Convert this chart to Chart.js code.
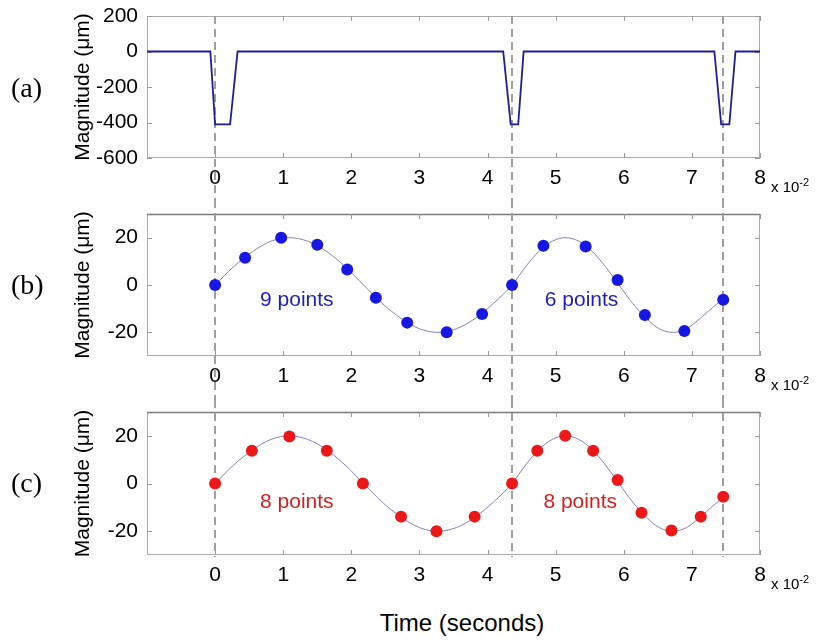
<!DOCTYPE html>
<html>
<head>
<meta charset="utf-8">
<script src="https://cdn.jsdelivr.net/npm/chart.js@4.4.1/dist/chart.umd.min.js"></script>
<style>
    body { margin: 0; background: #fff; }
    #wrap { position: relative; width: 821px; height: 641px; font-family: "Liberation Sans", Arial, sans-serif; color: #000; }
    .panel { position: absolute; left: 0; }
    .tag { position: absolute; left: 11px; font-family: "Liberation Serif", "Times New Roman", serif; font-size: 28px; line-height: 30px; }
    .mult { position: absolute; left: 771px; font-size: 15px; line-height: 16px; }
    .mult sup { font-size: 11px; vertical-align: 6px; line-height: 0; }
    #xlabel { position: absolute; left: 312px; width: 300px; top: 609px; text-align: center; font-size: 24px; line-height: 28px; }
</style>
</head>
<body>
<div id="wrap">
    <canvas id="chartA" class="panel" style="top:0"></canvas>
    <canvas id="chartB" class="panel" style="top:200px"></canvas>
    <canvas id="chartC" class="panel" style="top:400px"></canvas>
    <div class="tag" style="top:73px">(a)</div>
    <div class="tag" style="top:270px">(b)</div>
    <div class="tag" style="top:468px">(c)</div>
    <div class="mult" style="top:179px">x 10<sup>-2</sup></div>
    <div class="mult" style="top:377px">x 10<sup>-2</sup></div>
    <div class="mult" style="top:576px">x 10<sup>-2</sup></div>
    <div id="xlabel">Time (seconds)</div>
</div>
<script>
// time axis, in units of 1e-2 s
const xTicks = [0, 1, 2, 3, 4, 5, 6, 7, 8];
const markerTimes = [0, 4.36, 7.45];

// (a) excitation pulses
const pulseX = [-1, -0.07, 0, 0.22, 0.33, 4.23, 4.34, 4.45, 4.53, 7.33, 7.43, 7.55, 7.64, 8];
const pulseY = [0, 0, -410, -410, 0, 0, -410, -410, 0, 0, -410, -410, 0, 0];
const aTicks = [-600, -400, -200, 0, 200];

// underlying response curve used in (b) and (c)
const curveX = [0, 0.27, 0.55, 0.82, 1.09, 1.36, 1.64, 1.91, 2.18, 2.45, 2.73, 3.0, 3.27, 3.54, 3.82, 4.09,
    4.36, 4.56, 4.75, 4.95, 5.14, 5.34, 5.54, 5.73, 5.93, 6.13, 6.33, 6.52, 6.72, 6.92, 7.13, 7.30, 7.46];
const curveY = [0, 7.7, 14.1, 18.5, 20, 18.5, 14.1, 7.7, 0, -7.7, -14.1, -18.5, -20, -18.5, -14.1, -7.7,
    0, 7.8, 14.1, 18.5, 20, 18.5, 14.1, 7.8, 0, -7.8, -14.1, -18.5, -20, -18.5, -13.9, -9.6, -5.8];

// (b) sampled points: 9 + 6
const bX = [0, 0.44, 0.97, 1.50, 1.94, 2.36, 2.82, 3.40, 3.92, 4.36, 4.82, 5.44, 5.91, 6.31, 6.89, 7.46];
const bY = [0, 11.5, 20, 17, 6.5, -5.4, -15.9, -20, -12.3, 0, 16.6, 16.3, 2.1, -12.7, -19.4, -6.2];
const bNotes = ['9 points', '6 points'];

// (c) sampled points: 8 + 8
const cX = [0, 0.54, 1.09, 1.64, 2.17, 2.73, 3.25, 3.81, 4.36, 4.73, 5.14, 5.55, 5.91, 6.26, 6.70, 7.13, 7.46];
const cY = [0, 13.7, 19.7, 13.7, 0, -13.9, -20, -13.9, 0, 13.7, 20, 13.7, 1.5, -12.3, -19.7, -13.9, -5.6];
const cNotes = ['8 points', '8 points'];

const magTicks = [-20, 0, 20];

const toXY = (xs, ys) => xs.map((x, i) => ({x: x, y: ys[i]}));

const tickFont = {family: '"Liberation Sans", Arial, sans-serif', size: 21};

// frame, inward tick marks, dashed markers and text notes
const decor = {
    id: 'decor',
    beforeDatasetsDraw(chart, args, opts) {
        const {ctx, chartArea: a, scales: {x, y}} = chart;
        ctx.save();
        ctx.strokeStyle = '#ababab';
        ctx.lineWidth = 1;
        ctx.strokeRect(a.left + 0.5, a.top + 0.5, a.right - a.left - 1, a.bottom - a.top - 1);
        if (opts.darkTop) {
            ctx.strokeStyle = '#7c7c7c';
            ctx.lineWidth = 1.5;
            ctx.beginPath();
            ctx.moveTo(a.left, a.top + 0.5);
            ctx.lineTo(a.right, a.top + 0.5);
            ctx.stroke();
        }
        ctx.strokeStyle = '#9a9a9a';
        ctx.lineWidth = 1;
        ctx.beginPath();
        xTicks.forEach(v => {
            const px = Math.round(x.getPixelForValue(v)) + 0.5;
            ctx.moveTo(px, a.bottom); ctx.lineTo(px, a.bottom - 5);
            ctx.moveTo(px, a.top); ctx.lineTo(px, a.top + 5);
        });
        opts.yTicks.forEach(v => {
            const py = Math.round(y.getPixelForValue(v)) + 0.5;
            ctx.moveTo(a.left, py); ctx.lineTo(a.left + 5, py);
            ctx.moveTo(a.right, py); ctx.lineTo(a.right - 5, py);
        });
        ctx.stroke();

        ctx.strokeStyle = '#a0a0a0';
        ctx.lineWidth = 2;
        ctx.setLineDash([8, 5]);
        ctx.beginPath();
        const y1 = opts.dashFrom === 'top' ? a.top : 0;
        const y2 = opts.dashTo === 'bottom' ? a.bottom + 2 : chart.height;
        markerTimes.forEach(t => {
            const px = Math.round(x.getPixelForValue(t));
            ctx.moveTo(px, y1); ctx.lineTo(px, y2);
        });
        ctx.stroke();
        ctx.restore();
    },
    afterDatasetsDraw(chart, args, opts) {
        if (!opts.notes) return;
        const {ctx, scales: {x, y}} = chart;
        ctx.save();
        ctx.font = '21px "Liberation Sans", Arial, sans-serif';
        ctx.fillStyle = opts.noteColor;
        ctx.textAlign = 'center';
        ctx.textBaseline = 'middle';
        opts.notes.forEach((t, i) => {
            ctx.fillText(t, x.getPixelForValue(opts.noteX[i]), y.getPixelForValue(opts.noteY));
        });
        ctx.restore();
    }
};

function canvasSize(id, h) {
    const c = document.getElementById(id);
    c.width = 821;
    c.height = h;
    c.style.width = '821px';
    c.style.height = h + 'px';
}

function makePanel(id, datasets, p) {
    canvasSize(id, 200);
    new Chart(document.getElementById(id), {
        type: 'line',
        data: {datasets: datasets},
        options: {
            responsive: false,
            animation: false,
            devicePixelRatio: 1,
            layout: {padding: {top: p.top, right: 61, left: 0, bottom: 0}},
            plugins: {
                legend: {display: false},
                tooltip: {enabled: false},
                decor: p.decor
            },
            scales: {
                x: {
                    type: 'linear',
                    min: -1,
                    max: 8,
                    afterBuildTicks: s => { s.ticks = xTicks.map(v => ({value: v})); },
                    afterFit: s => { s.height = p.xh; s.paddingLeft = 0; s.paddingRight = 0; },
                    grid: {display: false, drawTicks: false},
                    border: {display: false},
                    ticks: {font: tickFont, color: '#000', padding: 8, maxRotation: 0, autoSkip: false}
                },
                y: {
                    type: 'linear',
                    min: p.ymin,
                    max: p.ymax,
                    afterBuildTicks: s => { s.ticks = p.decor.yTicks.map(v => ({value: v})); },
                    afterFit: s => { s.width = 147; s.paddingTop = 0; s.paddingBottom = 0; },
                    grid: {display: false, drawTicks: false},
                    border: {display: false},
                    ticks: {font: tickFont, color: '#000', padding: 9},
                    title: {
                        display: true,
                        text: 'Magnitude (\u03bcm)',
                        color: '#000',
                        font: {family: '"Liberation Sans", Arial, sans-serif', size: 21},
                        padding: {top: 71, bottom: 0}
                    }
                }
            }
        },
        plugins: [decor]
    });
}

makePanel('chartA', [{
    data: toXY(pulseX, pulseY),
    borderColor: '#1e1e9c',
    borderWidth: 1.8,
    pointRadius: 0,
    tension: 0
}], {top: 16, xh: 42, ymin: -600, ymax: 200,
    decor: {yTicks: aTicks, dashFrom: 'top', dashTo: 'end'}});

makePanel('chartB', [{
    data: toXY(bX, bY),
    showLine: false,
    pointRadius: 6,
    pointBackgroundColor: '#1717e4',
    pointBorderWidth: 0
}, {
    data: toXY(curveX, curveY),
    borderColor: '#8383b6',
    borderWidth: 1,
    pointRadius: 0,
    cubicInterpolationMode: 'monotone'
}], {top: 14, xh: 44, ymin: -30, ymax: 30,
    decor: {yTicks: magTicks, darkTop: true, dashFrom: 'start', dashTo: 'end',
        notes: bNotes, noteX: [1.2, 5.38], noteY: -6.5, noteColor: '#1c1cc8'}});

makePanel('chartC', [{
    data: toXY(cX, cY),
    showLine: false,
    pointRadius: 6,
    pointBackgroundColor: '#ec1818',
    pointBorderWidth: 0
}, {
    data: toXY(curveX, curveY),
    borderColor: '#8383b6',
    borderWidth: 1,
    pointRadius: 0,
    cubicInterpolationMode: 'monotone'
}], {top: 12, xh: 45, ymin: -30, ymax: 30,
    decor: {yTicks: magTicks, darkTop: true, dashFrom: 'start', dashTo: 'bottom',
        notes: cNotes, noteX: [1.2, 5.36], noteY: -7.9, noteColor: '#d41e1e'}});
</script>
</body>
</html>
